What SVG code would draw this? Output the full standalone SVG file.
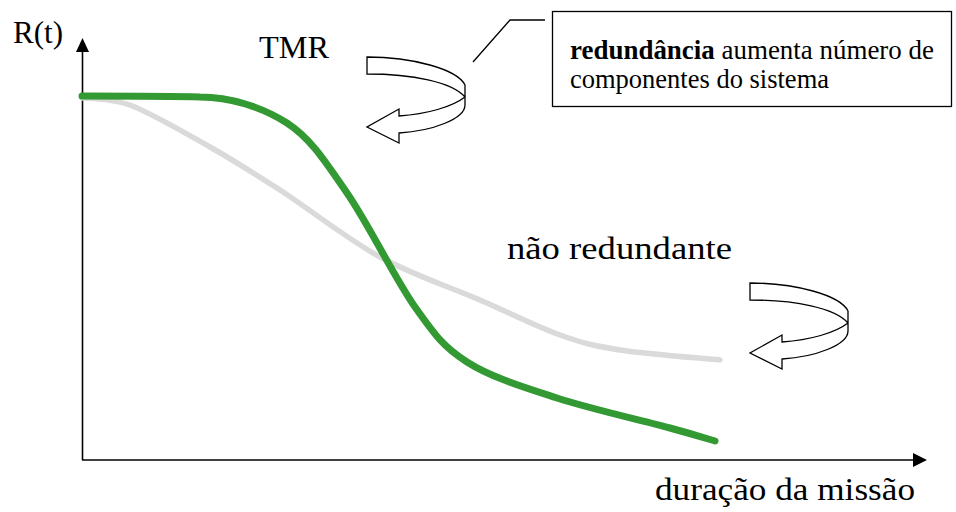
<svg xmlns="http://www.w3.org/2000/svg" width="956" height="512" viewBox="0 0 956 512">
  <style>
    text { font-family: 'Liberation Serif', 'DejaVu Serif', serif; fill: #000; }
    .big { font-size: 32px; }
    .box { font-size: 26.5px; }
    .axis { stroke: #000; stroke-width: 1.6; fill: none; }
    .ribbon { fill: #fff; stroke: #000; stroke-width: 1.3; stroke-linejoin: miter; }
    .curve { fill: none; stroke-linecap: round; stroke-linejoin: round; }
  </style>
  <defs>
    <path id="uturn" d="M0,0 C45,0 90,12 98,28 L98,48 C98,62 65,74 32,76 L32,86 L0,70 L32,52 L32,59 C60,57 85,50 98,40 C85,25 45,17 0,17 Z"/>
  </defs>
  <rect width="956" height="512" fill="#fff"/>

  <g id="axes">
    <line class="axis" x1="82.5" y1="460" x2="82.5" y2="50"/>
    <polygon points="82.5,38 76,52 89,52" fill="#000"/>
    <line class="axis" x1="82" y1="460" x2="914" y2="460"/>
    <polygon points="927,460 913,453 913,467" fill="#000"/>
    <text class="big" x="13" y="43" textLength="50" lengthAdjust="spacingAndGlyphs">R(t)</text>
    <text class="big" x="655" y="500" textLength="260" lengthAdjust="spacingAndGlyphs">duração da missão</text>
  </g>

  <g id="curve-nonredundant">
    <path class="curve" stroke="#dadada" stroke-width="5.5" d="M82,98 C100,98 115,100 130,105 C151.3,113.2 185,132.8 210,147 C235,161.2 251.7,171.7 280,190 C308.3,208.3 346.7,238.7 380,257 C413.3,275.3 450,287 480,300 C510,313 536.7,326.7 560,335 C583.3,343.3 593.3,345.8 620,350 C646.7,354.2 703.3,358.3 720,360"/>
    <text class="big" x="507" y="259" textLength="225" lengthAdjust="spacingAndGlyphs">não redundante</text>
  </g>

  <g id="curve-tmr">
    <path class="curve" stroke="#339933" stroke-width="7" d="M82,96 C120,96 170,96 200,97 C230,97 262,107 287,123 C311.5,139 325.7,162.3 347,193 C368.3,223.7 395,278.8 415,307 C435,335.2 443.3,346.8 467,362 C490.7,377.2 523.2,387 557,398 C590.8,409 643.7,420.8 670,428 C696.3,435.2 707.5,438.8 715,441"/>
    <text class="big" x="259" y="58" textLength="70" lengthAdjust="spacingAndGlyphs">TMR</text>
  </g>

  <g id="arrow-tmr">
    <use href="#uturn" class="ribbon" transform="translate(367,57)"/>
  </g>

  <g id="arrow-nonredundant">
    <use href="#uturn" class="ribbon" transform="translate(750,283)"/>
  </g>

  <g id="note-box">
    <rect x="552.5" y="11.5" width="399" height="95" fill="#fff" stroke="#000" stroke-width="1.3"/>
    <text class="box" x="570" y="59" textLength="364" lengthAdjust="spacingAndGlyphs"><tspan font-weight="bold">redundância</tspan> aumenta número de</text>
    <text class="box" x="570" y="88" textLength="259" lengthAdjust="spacingAndGlyphs">componentes do sistema</text>
  </g>

  <g id="connectors">
    <polyline points="473,62 510,20 545,20" fill="none" stroke="#000" stroke-width="1.3"/>
  </g>
</svg>
